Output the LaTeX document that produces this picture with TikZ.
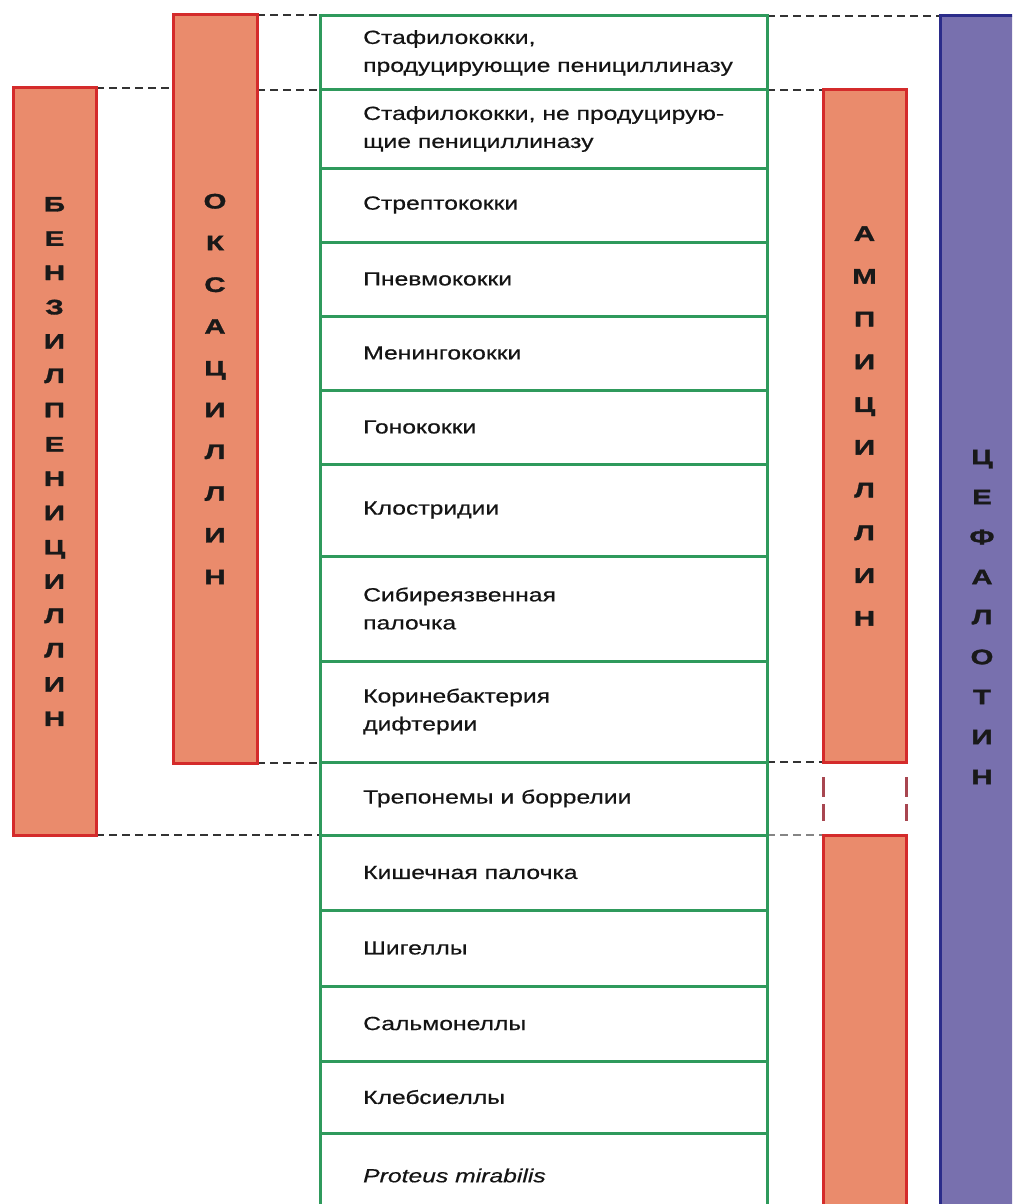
\documentclass[tikz,border=0pt]{standalone}
\usepackage{fontspec}
\newfontfamily\wsans[FakeStretch=1.3,FakeBold=0.5]{Liberation Sans}
\newfontfamily\wsansb[FakeStretch=1.4,FakeBold=1.5]{Liberation Sans Bold}
\usetikzlibrary{positioning,backgrounds}
\definecolor{grn}{HTML}{2F9A5C}
\definecolor{redb}{HTML}{D42B2B}
\definecolor{salm}{HTML}{EA8B6C}
\definecolor{cephc}{HTML}{7870AE}
\definecolor{dnavy}{HTML}{2B2C8A}
\definecolor{gapc}{HTML}{A84650}
\definecolor{dashc}{HTML}{333333}
\newcommand\barfont[1]{\wsansb\fontsize{21}{#1}\selectfont}
\tikzset{
  row/.style={draw=grn,line width=3pt,minimum width=447pt,inner sep=0pt,outer sep=0pt},
  txt/.style={inner sep=0pt,align=left,font=\wsans\fontsize{19}{28}\selectfont,text=black!92},
  bar/.style={draw=redb,fill=salm,line width=3pt,minimum width=83pt,inner sep=0pt,outer sep=0pt,align=center,text=black!90},
  dline/.style={draw=dashc,line width=1.8pt,dash pattern=on 8pt off 5pt},
  gline/.style={draw=gapc,line width=3pt,dash pattern=on 0pt off 15pt on 20pt off 7pt on 17pt off 20pt},
}
\begin{document}
\begin{tikzpicture}[x=1pt,y=-1pt]
\useasboundingbox (0,0) rectangle (1012,1204);
\clip (0,0) rectangle (1012,1204);
% bacteria column
\node[row,minimum height=74pt] (r1) at (543.5,53) {};
\node[row,minimum height=78pt,below=0pt of r1] (r2) {};
\node[row,minimum height=74pt,below=0pt of r2] (r3) {};
\node[row,minimum height=74pt,below=0pt of r3] (r4) {};
\node[row,minimum height=74pt,below=0pt of r4] (r5) {};
\node[row,minimum height=74pt,below=0pt of r5] (r6) {};
\node[row,minimum height=92pt,below=0pt of r6] (r7) {};
\node[row,minimum height=105pt,below=0pt of r7] (r8) {};
\node[row,minimum height=101pt,below=0pt of r8] (r9) {};
\node[row,minimum height=73pt,below=0pt of r9] (r10) {};
\node[row,minimum height=75pt,below=0pt of r10] (r11) {};
\node[row,minimum height=76pt,below=0pt of r11] (r12) {};
\node[row,minimum height=75pt,below=0pt of r12] (r13) {};
\node[row,minimum height=72pt,below=0pt of r13] (r14) {};
\node[row,minimum height=85pt,below=0pt of r14] (r15) {};
\node[txt,right=43pt of r1.west] (t1) {Стафилококки,\\продуцирующие пенициллиназу};
\node[txt,right=43pt of r2.west] (t2) {Стафилококки, не продуцирую-\\щие пенициллиназу};
\node[txt,right=43pt of r3.west] (t3) {Стрептококки};
\node[txt,right=43pt of r4.west] (t4) {Пневмококки};
\node[txt,right=43pt of r5.west] (t5) {Менингококки};
\node[txt,right=43pt of r6.west] (t6) {Гонококки};
\node[txt,right=43pt of r7.west] (t7) {Клостридии};
\node[txt,right=43pt of r8.west] (t8) {Сибиреязвенная\\палочка};
\node[txt,right=43pt of r9.west] (t9) {Коринебактерия\\дифтерии};
\node[txt,right=43pt of r10.west] (t10) {Трепонемы и боррелии};
\node[txt,right=43pt of r11.west] (t11) {Кишечная палочка};
\node[txt,right=43pt of r12.west] (t12) {Шигеллы};
\node[txt,right=43pt of r13.west] (t13) {Сальмонеллы};
\node[txt,right=43pt of r14.west] (t14) {Клебсиеллы};
\node[txt,right=43pt of r15.west] (t15) {\itshape Proteus mirabilis};
% antibiotic bars
\node[bar,minimum height=747pt,font={\barfont{34.3}}] (benz) at (54.5,461.5) {Б\\Е\\Н\\З\\И\\Л\\П\\Е\\Н\\И\\Ц\\И\\Л\\Л\\И\\Н};
\node[bar,minimum width=84pt,minimum height=748pt,font={\barfont{41.75}}] (oxa) at (215,389) {О\\К\\С\\А\\Ц\\И\\Л\\Л\\И\\Н};
\node[bar,minimum height=672pt,font={\barfont{42.75}}] (amp1) at (864.5,426) {А\\М\\П\\И\\Ц\\И\\Л\\Л\\И\\Н};
\node[bar,minimum height=385pt] (amp2) at (864.5,1027.5) {};
\node[bar,draw=dnavy,fill=cephc,minimum width=84pt,minimum height=1202pt,font={\barfont{40}}] (ceph) at (982,617) {Ц\\Е\\Ф\\А\\Л\\О\\Т\\И\\Н};
% dashed guides
\begin{scope}[on background layer]
\draw[dline] (oxa.north east) -- (oxa.north east -| r1.west);
\draw[dline] (r1.north east) -- (r1.north east -| ceph.west);
\draw[dline] (benz.north east) -- (benz.north east -| oxa.west);
\draw[dline] (oxa.east |- r2.north) -- (r2.north west);
\draw[dline] (r2.north east) -- (r2.north east -| amp1.west);
\draw[dline] (oxa.south east) -- (oxa.south east -| r10.west);
\draw[dline] (r10.north east) -- (r10.north east -| amp1.west);
\draw[dline] (benz.south east) -- (benz.south east -| r11.west);
\draw[dline,draw=dashc!60] (r11.north east) -- (r11.north east -| amp2.west);
\end{scope}
\draw[gline] (amp1.south west) -- (amp2.north west);
\draw[gline] (amp1.south east) -- (amp2.north east);
\end{tikzpicture}
\end{document}
